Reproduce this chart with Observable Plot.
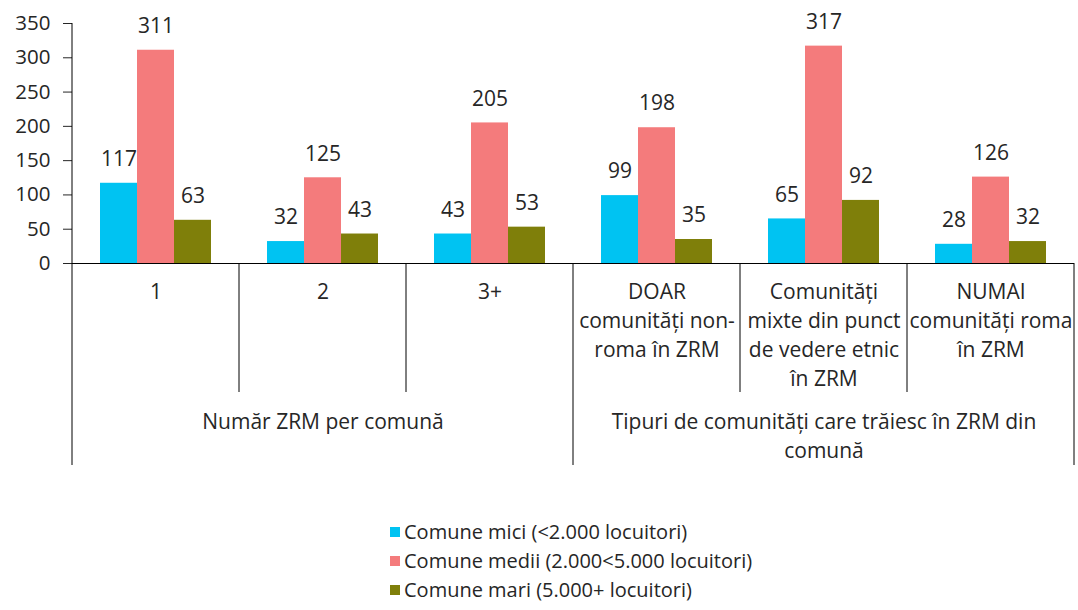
<!DOCTYPE html>
<html><head><meta charset="utf-8">
<script src="https://cdn.jsdelivr.net/npm/d3@7"></script>
<script src="https://cdn.jsdelivr.net/npm/@observablehq/plot@0.6"></script>
<style>
body{margin:0;background:#fff;font-family:"Open Sans",sans-serif;}
#chart{position:relative;width:1078px;height:610px;}
#legend{position:absolute;left:390px;top:517px;font-size:20px;color:#262626;}
.item{display:flex;align-items:center;height:29px;white-space:nowrap;}
.sw{width:10px;height:10px;margin-right:4px;flex:none;}
</style></head><body><div id="chart"></div>
<script>
const categoryKeys = ["c1","c2","c3","c4","c5","c6"];
const categoryLabels = ["1","2","3+","DOAR\ncomunități non-\nroma în ZRM","Comunități\nmixte din punct\nde vedere etnic\nîn ZRM","NUMAI\ncomunități roma\nîn ZRM"];
const groupLabels = ["Număr ZRM per comună","Tipuri de comunități care trăiesc în ZRM din\ncomună"];
const groupCenterKeys = ["c2","c5"];
const groupBoundaries = [0,3,6];
const series = ["Comune mici (<2.000 locuitori)","Comune medii (2.000<5.000 locuitori)","Comune mari (5.000+ locuitori)"];
const colors = ["#00C3F2","#F47B7C","#7F7F0A"];
const mici = [117,32,43,99,65,28];
const medii = [311,125,205,198,317,126];
const mari = [63,43,53,35,92,32];
const yTicks = [0,50,100,150,200,250,300,350];

const values = [mici, medii, mari];
const data = [];
categoryKeys.forEach((c,i)=>{ series.forEach((s,j)=>data.push({cat:c, s, v:values[j][i]})); });
const cats = categoryKeys.map((k,i)=>({key:k,label:categoryLabels[i]}));
const groups = groupCenterKeys.map((k,i)=>({key:k,label:groupLabels[i]}));

const chart = Plot.plot({
  width:1078, height:480,
  marginLeft:71, marginRight:4, marginTop:23, marginBottom:217,
  style:{fontFamily:"'Open Sans', sans-serif", fontSize:"20.5px", color:"#262626", background:"white"},
  fx:{domain:categoryKeys, padding:0, axis:null},
  x:{domain:series, paddingInner:0, paddingOuter:0.75, axis:null},
  y:{domain:[0,350], ticks:yTicks, tickSize:9, tickPadding:13, label:null, line:false},
  color:{domain:series, range:colors},
  marks:[
    Plot.barY(data,{fx:"cat", x:"s", y:"v", fill:"s"}),
    Plot.text(data,{fx:"cat", x:"s", y:"v", text:d=>String(d.v), dy:-24, fill:"#262626", fontSize:21}),
    Plot.ruleY([0],{stroke:"#000"}),
    Plot.text(cats,{fx:"key", text:"label", frameAnchor:"bottom", lineAnchor:"top", dy:15, lineHeight:1.38, fill:"#262626", fontSize:21}),
    Plot.text(groups,{fx:"key", text:"label", frameAnchor:"bottom", lineAnchor:"top", dy:145, lineHeight:1.38, fill:"#262626", fontSize:21})
  ]
});

// category separators drawn from the library's scales
const fx = chart.scale("fx"), y = chart.scale("y");
const y0 = y.apply(0), yTop = y.apply(350);
const g = d3.select(chart).append("g").attr("stroke","#000").attr("stroke-width",1);
for (let i=0;i<=categoryKeys.length;i++){
  const x = i<categoryKeys.length ? fx.apply(categoryKeys[i]) : fx.apply(categoryKeys[categoryKeys.length-1]) + fx.bandwidth;
  const isGroup = groupBoundaries.includes(i);
  g.append("line").attr("x1",x).attr("x2",x)
    .attr("y1", i===0 ? yTop : y0)
    .attr("y2", y0 + (isGroup ? 202 : 129));
}
const root = document.getElementById("chart");
root.appendChild(chart);

const legend = document.createElement("div");
legend.id = "legend";
series.forEach((s,j)=>{
  const it = document.createElement("div"); it.className="item";
  const sw = document.createElement("span"); sw.className="sw"; sw.style.background=colors[j];
  const t = document.createElement("span"); t.textContent=s;
  it.appendChild(sw); it.appendChild(t); legend.appendChild(it);
});
root.appendChild(legend);
</script>
</body></html>
